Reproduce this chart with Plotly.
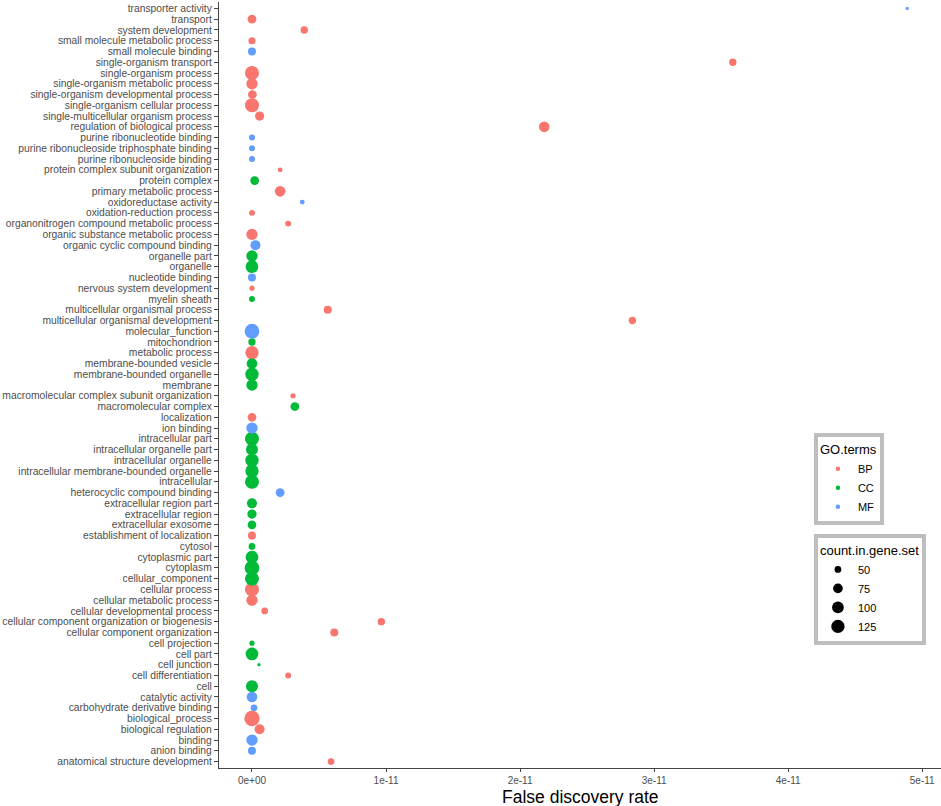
import numpy as np
import plotly.graph_objects as go

# GO terms, listed top to bottom as on the chart
terms = [
    "transporter activity", "transport", "system development",
    "small molecule metabolic process", "small molecule binding",
    "single-organism transport", "single-organism process",
    "single-organism metabolic process", "single-organism developmental process",
    "single-organism cellular process", "single-multicellular organism process",
    "regulation of biological process", "purine ribonucleotide binding",
    "purine ribonucleoside triphosphate binding", "purine ribonucleoside binding",
    "protein complex subunit organization", "protein complex",
    "primary metabolic process", "oxidoreductase activity",
    "oxidation-reduction process", "organonitrogen compound metabolic process",
    "organic substance metabolic process", "organic cyclic compound binding",
    "organelle part", "organelle", "nucleotide binding",
    "nervous system development", "myelin sheath",
    "multicellular organismal process", "multicellular organismal development",
    "molecular_function", "mitochondrion", "metabolic process",
    "membrane-bounded vesicle", "membrane-bounded organelle", "membrane",
    "macromolecular complex subunit organization", "macromolecular complex",
    "localization", "ion binding", "intracellular part",
    "intracellular organelle part", "intracellular organelle",
    "intracellular membrane-bounded organelle", "intracellular",
    "heterocyclic compound binding", "extracellular region part",
    "extracellular region", "extracellular exosome",
    "establishment of localization", "cytosol", "cytoplasmic part",
    "cytoplasm", "cellular_component", "cellular process",
    "cellular metabolic process", "cellular developmental process",
    "cellular component organization or biogenesis",
    "cellular component organization", "cell projection", "cell part",
    "cell junction", "cell differentiation", "cell", "catalytic activity",
    "carbohydrate derivative binding", "biological_process",
    "biological regulation", "binding", "anion binding",
    "anatomical structure development",
]

go_class = [
    "MF", "BP", "BP", "BP", "MF", "BP", "BP", "BP", "BP", "BP",
    "BP", "BP", "MF", "MF", "MF", "BP", "CC", "BP", "MF", "BP",
    "BP", "BP", "MF", "CC", "CC", "MF", "BP", "CC", "BP", "BP",
    "MF", "CC", "BP", "CC", "CC", "CC", "BP", "CC", "BP", "MF",
    "CC", "CC", "CC", "CC", "CC", "MF", "CC", "CC", "CC", "BP",
    "CC", "CC", "CC", "CC", "BP", "BP", "BP", "BP", "BP", "CC",
    "CC", "CC", "BP", "CC", "MF", "MF", "BP", "BP", "MF", "MF",
    "BP",
]

# false discovery rate (units of 1e-11)
fdr_e11 = [
    4.888, 0.0, 0.39, 0.0, 0.0, 3.587, 0.0, 0.0, 0.003, 0.0,
    0.057, 2.18, 0.0, 0.0, 0.0, 0.21, 0.02, 0.21, 0.375, 0.0,
    0.27, 0.0, 0.026, 0.0, 0.0, 0.0, 0.0, 0.0, 0.565, 2.838,
    0.0, 0.0, 0.0, 0.0, 0.0, 0.0, 0.306, 0.32, 0.0, 0.0,
    0.0, 0.0, 0.0, 0.0, 0.0, 0.21, 0.0, 0.0, 0.0, 0.0,
    0.0, 0.0, 0.0, 0.0, 0.0, 0.0, 0.095, 0.965, 0.614, 0.0,
    0.0, 0.052, 0.27, 0.0, 0.0, 0.015, 0.0, 0.057, 0.0, 0.0,
    0.59,
]

count_in_gene_set = [
    40, 65, 54, 52, 59, 54, 137, 94, 65, 137,
    70, 86, 46, 46, 46, 42, 65, 86, 42, 46,
    46, 94, 78, 94, 115, 59, 43, 46, 59, 54,
    150, 54, 125, 86, 125, 94, 43, 65, 65, 94,
    137, 104, 125, 125, 137, 65, 78, 70, 65, 59,
    50, 115, 150, 137, 137, 94, 50, 54, 59, 43,
    115, 40, 46, 104, 86, 50, 162, 78, 94, 59,
    50,
]

go_levels = ["BP", "CC", "MF"]
size_breaks = [50, 75, 100, 125]
x_tickvals = [0, 1e-11, 2e-11, 3e-11, 4e-11, 5e-11]
x_ticktext = ["0e+00", "1e-11", "2e-11", "3e-11", "4e-11", "5e-11"]

hue = {"BP": "#F8766D", "CC": "#00BA38", "MF": "#619CFF"}


def point_size(c):
    # area-style size scale, like ggplot's scale_size
    c = np.asarray(c, dtype=float)
    return 3.3 + 12.0 * np.sqrt(np.clip((c - 40.0) / 122.0, 0, None))


fdr = np.array(fdr_e11) * 1e-11
cls = np.array(go_class)
cnt = np.array(count_in_gene_set)
trm = np.array(terms)

fig = go.Figure()

for g in go_levels:
    m = cls == g
    fig.add_trace(go.Scatter(
        x=fdr[m], y=trm[m], mode="markers", showlegend=False,
        marker=dict(color=hue[g], size=point_size(cnt[m]), opacity=1,
                    line=dict(width=0)),
        customdata=cnt[m],
        hovertemplate="%{y}<br>FDR=%{x}<br>count=%{customdata}<extra>" + g + "</extra>",
    ))

# legend keys
for g in go_levels:
    fig.add_trace(go.Scatter(
        x=[None], y=[None], mode="markers", name=g, legend="legend",
        marker=dict(color=hue[g], size=4.5, opacity=1),
    ))
for b in size_breaks:
    fig.add_trace(go.Scatter(
        x=[None], y=[None], mode="markers", name=str(b), legend="legend2",
        marker=dict(color="black", size=float(point_size(b)), opacity=1),
    ))

font = "Liberation Sans, Arial, sans-serif"
leg_common = dict(
    bgcolor="white", bordercolor="#BEBEBE", borderwidth=4,
    font=dict(family=font, size=11, color="black"),
    itemsizing="trace", xanchor="left", yanchor="top",
    tracegroupgap=0,
)

fig.update_layout(
    width=941, height=806,
    margin=dict(l=219, r=0, t=2, b=38),
    plot_bgcolor="white", paper_bgcolor="white",
    font=dict(family=font, size=10, color="#4D4D4D"),
    xaxis=dict(
        range=[-0.246e-11, 5.14e-11], tickvals=x_tickvals, ticktext=x_ticktext,
        showgrid=False, zeroline=False, showline=True, linecolor="#444444",
        linewidth=1.2, ticks="outside", ticklen=3, tickcolor="#444444",
        tickfont=dict(size=10, color="#4D4D4D"),
    ),
    yaxis=dict(
        type="category", categoryorder="array", categoryarray=terms[::-1],
        tickmode="array", tickvals=terms, ticktext=terms,
        range=[-0.6, len(terms) - 0.4],
        showgrid=False, zeroline=False, showline=True, linecolor="#444444",
        linewidth=1.2, ticks="outside", ticklen=4, tickcolor="#444444",
        tickfont=dict(size=10.3, color="#4D4D4D"),
    ),
    annotations=[dict(
        text="False discovery rate", xref="paper", yref="paper",
        x=0.5, y=-0.0379, xanchor="center", yanchor="middle",
        showarrow=False, font=dict(family=font, size=17.5, color="black"),
    )],
    legend=dict(x=0.824, y=0.437, title=dict(text="GO.terms", font=dict(size=13)),
                **leg_common),
    legend2=dict(x=0.824, y=0.3055,
                 title=dict(text="count.in.gene.set", font=dict(size=13)),
                 **leg_common),
)

fig.write_html("out.html", config={"displayModeBar": False},
               post_script="document.body.style.margin='0px';")
